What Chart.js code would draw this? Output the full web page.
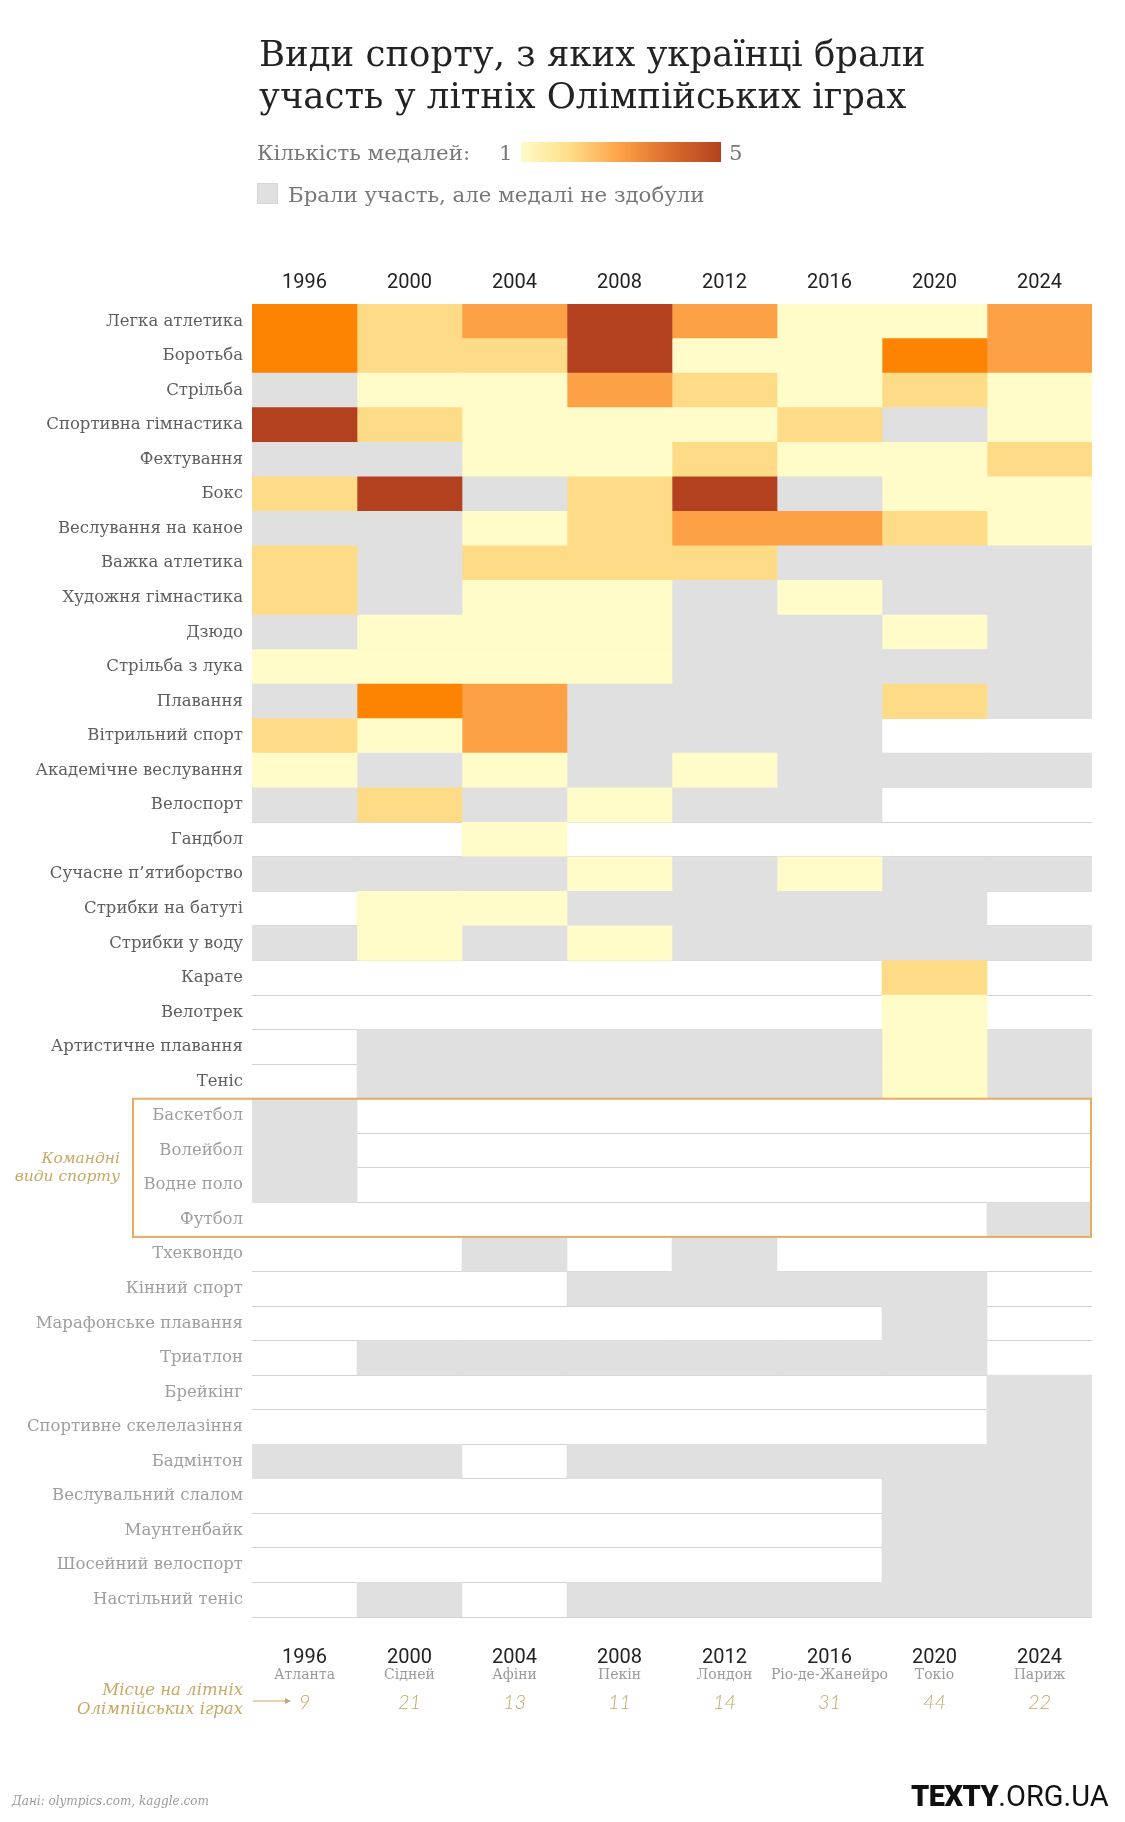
<!DOCTYPE html>
<html lang="uk">
<head>
<meta charset="utf-8">
<script src="https://cdn.jsdelivr.net/npm/chart.js@4.4.1/dist/chart.umd.min.js"></script>
<style>
  html, body { margin: 0; background: #fff; }
  #page { position: relative; width: 1125px; height: 1822px; overflow: hidden; }
  #heat { position: absolute; left: 0; top: 0; }
  .txt { position: absolute; white-space: nowrap; font-family: "DejaVu Serif", serif; }
  #title { left: 259px; top: 33px; font-size: 35.5px; line-height: 42px; color: #222; }
  #lgLabel { left: 257px; top: 140px; font-size: 21.3px; color: #777; }
  #lgMin { left: 499px; top: 140px; font-size: 21.3px; color: #777; }
  #lgMax { left: 729px; top: 140px; font-size: 21.3px; color: #777; }
  #lgBar { position: absolute; left: 521px; top: 142px; width: 200px; height: 20px;
           background: linear-gradient(to right, #fffcc9 0%, #fedc87 25%, #fda146 50%, #d8692d 76%, #b3411f 100%); }
  #lgBox { position: absolute; left: 257px; top: 183px; width: 19px; height: 19px; background: #e0e0e0; border: 1px solid #d6d6d6; }
  #lgGray { left: 288px; top: 182px; font-size: 21.3px; color: #777; }
  #source { left: 12px; top: 1794px; font-size: 12px; font-style: italic; color: #9a9a9a; }
  #logo { left: 911px; top: 1779px; font-family: Roboto, sans-serif; font-size: 29px; color: #111; letter-spacing: 0px; }
  #logo b { font-weight: 900; letter-spacing: -0.5px; }
</style>
</head>
<body>
<div id="page">
  <canvas id="heat" width="1125" height="1822"></canvas>
  <div class="txt" id="title">Види спорту, з яких українці брали<br>участь у літніх Олімпійських іграх</div>
  <div class="txt" id="lgLabel">Кількість медалей:</div>
  <div class="txt" id="lgMin">1</div>
  <div id="lgBar"></div>
  <div class="txt" id="lgMax">5</div>
  <div id="lgBox"></div>
  <div class="txt" id="lgGray">Брали участь, але медалі не здобули</div>
  <div class="txt" id="source">Дані: olympics.com, kaggle.com</div>
  <div class="txt" id="logo"><b>TEXTY</b>.ORG.UA</div>
</div>
<script>
const years  = ["1996", "2000", "2004", "2008", "2012", "2016", "2020", "2024"];
const cities = ["Атланта", "Сідней", "Афіни", "Пекін", "Лондон", "Ріо-де-Жанейро", "Токіо", "Париж"];
const ranks  = [9, 21, 13, 11, 14, 31, 44, 22];

const sports = [
    "Легка атлетика", "Боротьба", "Стрільба", "Спортивна гімнастика", "Фехтування",
    "Бокс", "Веслування на каное", "Важка атлетика", "Художня гімнастика", "Дзюдо",
    "Стрільба з лука", "Плавання", "Вітрильний спорт", "Академічне веслування", "Велоспорт",
    "Гандбол", "Сучасне п’ятиборство", "Стрибки на батуті", "Стрибки у воду", "Карате",
    "Велотрек", "Артистичне плавання", "Теніс",
    "Баскетбол", "Волейбол", "Водне поло", "Футбол",
    "Тхеквондо", "Кінний спорт", "Марафонське плавання", "Триатлон", "Брейкінг",
    "Спортивне скелелазіння", "Бадмінтон", "Веслувальний слалом", "Маунтенбайк",
    "Шосейний велоспорт", "Настільний теніс"
];

// рівень медалей 1..5 (5 = 5 і більше), 0 = брали участь без медалей, N = не брали участі
const N = null;
const m1996 = [4,4,0,5,0,2,0,2,2,0,1,0,2,1,0,N,0,N,0,N,N,N,N,0,0,0,N,N,N,N,N,N,N,0,N,N,N,N];
const m2000 = [2,2,1,2,0,5,0,0,0,1,1,4,1,0,2,N,0,1,1,N,N,0,0,N,N,N,N,N,N,N,0,N,N,0,N,N,N,0];
const m2004 = [3,2,1,1,1,0,1,2,1,1,1,3,3,1,0,1,0,1,0,N,N,0,0,N,N,N,N,0,N,N,0,N,N,N,N,N,N,N];
const m2008 = [5,5,3,1,1,2,2,2,1,1,1,0,0,0,1,N,1,0,1,N,N,0,0,N,N,N,N,N,0,N,0,N,N,0,N,N,N,0];
const m2012 = [3,1,2,1,2,5,3,2,0,0,0,0,0,1,0,N,0,0,0,N,N,0,0,N,N,N,N,0,0,N,0,N,N,0,N,N,N,0];
const m2016 = [1,1,1,2,1,0,3,0,1,0,0,0,0,0,0,N,1,0,0,N,N,0,0,N,N,N,N,N,0,N,0,N,N,0,N,N,N,0];
const m2020 = [1,4,2,0,1,1,2,0,0,1,0,2,N,0,N,N,0,0,0,2,1,1,1,N,N,N,N,N,0,0,0,N,N,0,0,0,0,0];
const m2024 = [3,3,1,1,2,1,1,0,0,0,0,0,N,0,N,N,0,N,0,N,N,0,0,N,N,N,0,N,N,N,N,0,0,0,0,0,0,0];
const medals = [m1996, m2000, m2004, m2008, m2012, m2016, m2020, m2024];

const levelColors = ["#e0e0e0", "#fffcc9", "#fedc87", "#fda146", "#fd8403", "#b3411f"];
const GOLD = "#c9a764";
const FIRST_TEAM = 23, LAST_TEAM = 26;   // Баскетбол .. Футбол
const MEDAL_ROWS = 23;                   // рядки з медалями хоч раз

const datasets = years.map((yr, i) => ({
    label: yr,
    data: medals[i].map(v => v === null ? null : [i, i + 1]),
    backgroundColor: medals[i].map(v => v === null ? "rgba(0,0,0,0)" : levelColors[v]),
    borderWidth: 0,
    borderSkipped: false,
    grouped: false,
    barPercentage: 1,
    categoryPercentage: 1
}));

/* ---- підписи років, міст, місць і рамка командних видів ---- */
const extras = {
    id: "extras",
    afterDraw(chart) {
        const { ctx, chartArea: a, scales: { x, y } } = chart;
        const rowH = y.getPixelForValue(1) - y.getPixelForValue(0);
        ctx.save();
        ctx.textAlign = "center";
        years.forEach((yr, i) => {
            const cx = x.getPixelForValue(i + 0.5);
            ctx.fillStyle = "#222";
            ctx.font = "20px Roboto";
            ctx.fillText(yr, cx, a.top - 16);
            ctx.fillText(yr, cx, a.bottom + 46);
            ctx.fillStyle = "#9a9a9a";
            ctx.font = "14px 'DejaVu Serif'";
            ctx.fillText(cities[i], cx, a.bottom + 62);
            ctx.fillStyle = GOLD;
            ctx.font = "italic 300 20px Lato";
            ctx.fillText(String(ranks[i]), cx, a.bottom + 92);
        });

        ctx.textAlign = "right";
        ctx.fillStyle = GOLD;
        ctx.font = "italic 16.5px 'DejaVu Serif'";
        ctx.fillText("Місце на літніх", 243, a.bottom + 78);
        ctx.fillText("Олімпійських іграх", 243, a.bottom + 97);

        // стрілка до місця
        const ay = a.bottom + 84;
        ctx.strokeStyle = GOLD;
        ctx.lineWidth = 1;
        ctx.beginPath();
        ctx.moveTo(253, ay); ctx.lineTo(287, ay);
        ctx.stroke();
        ctx.beginPath();
        ctx.moveTo(291, ay); ctx.lineTo(285, ay - 3); ctx.lineTo(285, ay + 3);
        ctx.closePath();
        ctx.fill();

        // командні види спорту
        const top = y.getPixelForValue(FIRST_TEAM) - rowH / 2;
        const bot = y.getPixelForValue(LAST_TEAM) + rowH / 2;
        ctx.strokeStyle = "#e8ac60";
        ctx.lineWidth = 2;
        ctx.strokeRect(133, top, a.right - 134, bot - top);
        ctx.font = "italic 15.5px 'DejaVu Serif'";
        ctx.fillText("Командні", 120, top + 64);
        ctx.fillText("види спорту", 120, top + 82);
        ctx.restore();
    }
};

new Chart(document.getElementById("heat"), {
    type: "bar",
    data: { labels: sports, datasets },
    plugins: [extras],
    options: {
        indexAxis: "y",
        responsive: false,
        animation: false,
        devicePixelRatio: 1,
        layout: { padding: { top: 304, bottom: 205, left: 0, right: 33 } },
        scales: {
            x: { type: "linear", min: 0, max: 8, display: false },
            y: {
                type: "category",
                offset: true,
                z: 1,
                afterFit: s => { s.width = 252; },
                border: { display: false },
                grid: {
                    offset: true,
                    drawTicks: false,
                    lineWidth: 1,
                    color: c => c.index === 0 ? "rgba(0,0,0,0)" : "rgba(150,150,150,0.42)"
                },
                ticks: {
                    autoSkip: false,
                    padding: 9,
                    font: { family: "'DejaVu Serif'", size: 16.5 },
                    color: c => c.index < MEDAL_ROWS ? "#5e5e5e" : "#9e9e9e"
                }
            }
        },
        plugins: {
            legend: { display: false },
            title: { display: false },
            tooltip: { enabled: false }
        }
    }
});
</script>
</body>
</html>
